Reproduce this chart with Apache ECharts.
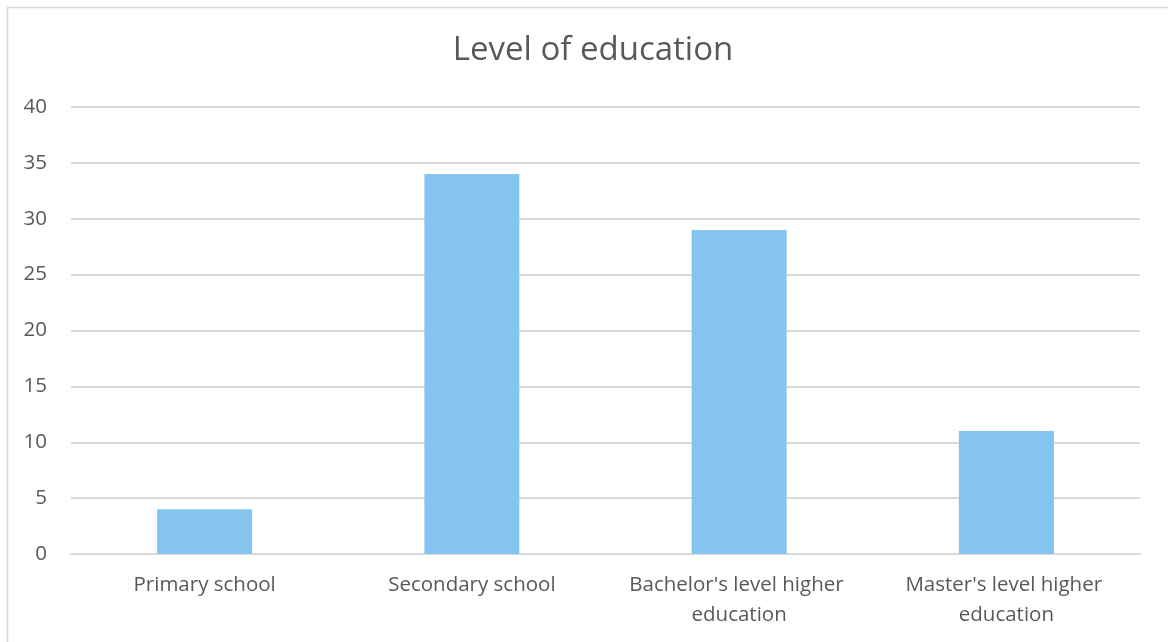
<!DOCTYPE html>
<html>
<head>
<meta charset="utf-8">
<script src="https://cdn.jsdelivr.net/npm/echarts@6/dist/echarts.min.js"></script>
<style>
  html, body { margin: 0; padding: 0; background: #fff; }
  #chart { width: 1168px; height: 642px; }
</style>
</head>
<body>
<div id="chart"></div>
<script>
// Education level counts
const categories = ['Primary school', 'Secondary school', "Bachelor's level higher education", "Master's level higher education"];
const counts = [4, 34, 29, 11];
const yTicks = { min: 0, max: 40, interval: 5 };

const FONT = 'Open Sans';
const chart = echarts.init(document.getElementById('chart'), null, { renderer: 'canvas' });

chart.setOption({
  animation: false,
  backgroundColor: '#ffffff',
  title: {
    text: 'Level of education',
    left: 588,
    textAlign: 'center',
    top: 29,
    textStyle: { fontFamily: FONT, fontSize: 33, fontWeight: 'normal', color: '#595959' }
  },
  graphic: [{
    type: 'rect',
    shape: { x: 7.5, y: 7.5, width: 1200, height: 700 },
    style: { fill: 'none', stroke: '#d9d9d9', lineWidth: 1.5 },
    silent: true
  }],
  grid: { left: 71, right: 28, top: 107, bottom: 88, containLabel: false },
  xAxis: {
    type: 'category',
    data: categories,
    axisLine: { show: true, lineStyle: { color: '#d9d9d9', width: 2 } },
    axisTick: { show: false },
    axisLabel: {
      interval: 0,
      margin: 16,
      width: 250,
      overflow: 'break',
      lineHeight: 30,
      fontFamily: FONT,
      fontSize: 20.5,
      color: '#595959'
    }
  },
  yAxis: {
    type: 'value',
    min: yTicks.min,
    max: yTicks.max,
    interval: yTicks.interval,
    axisLine: { show: false },
    axisTick: { show: false },
    splitLine: { lineStyle: { color: '#d9d9d9', width: 2 } },
    axisLabel: { margin: 24, fontFamily: FONT, fontSize: 20.5, color: '#595959' }
  },
  series: [{
    type: 'bar',
    data: counts,
    barWidth: 95,
    itemStyle: { color: '#85c4ee' }
  }]
});
</script>
</body>
</html>
